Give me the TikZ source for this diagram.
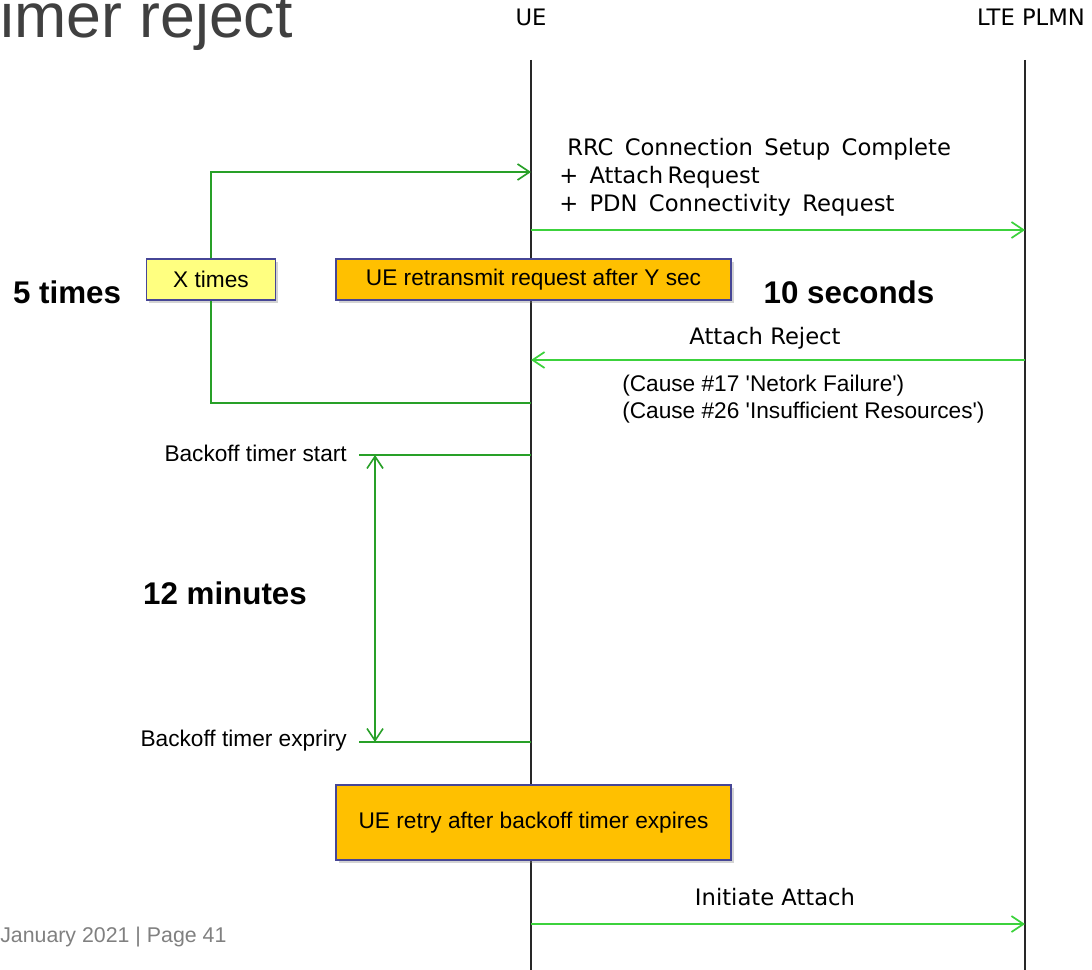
\documentclass[tikz,border=0pt]{standalone}
\usepackage{fontspec}
\setmainfont{Liberation Sans}
\newfontfamily\msgfont{DejaVu Sans}
\usetikzlibrary{positioning,arrows.meta,shadows}

\definecolor{loopgreen}{RGB}{40,160,40}
\definecolor{msggreen}{RGB}{60,210,60}
\definecolor{linegray}{RGB}{40,40,40}
\definecolor{boxedge}{RGB}{70,70,150}
\definecolor{notefill}{RGB}{255,255,128}
\definecolor{actfill}{RGB}{255,192,0}
\definecolor{titlegray}{RGB}{64,64,64}
\definecolor{footgray}{RGB}{128,128,128}

\begin{document}
\begin{tikzpicture}[x=0.75pt,y=-0.75pt,
  lifeline/.style={draw=linegray, line width=0.9pt},
  msgarrow/.style={draw=msggreen, line width=1.3pt, -{Straight Barb[length=9pt,width=12pt]}},
  loopline/.style={draw=loopgreen, line width=1.2pt},
  barb/.style={-{Straight Barb[length=9pt,width=12pt]}},
  msgtext/.style={font=\msgfont\fontsize{17}{21}\selectfont, inner sep=0pt},
  plaintext/.style={font=\fontsize{17}{20}\selectfont, inner sep=0pt},
  bigtext/.style={font=\bfseries\fontsize{23.5}{28}\selectfont, text={RGB:red,34;green,34;blue,34}},
  notebox/.style={draw=boxedge, line width=1pt, fill=notefill, minimum width=129*0.75pt,
    minimum height=41*0.75pt, font=\fontsize{17}{20}\selectfont,
    drop shadow={shadow xshift=2pt, shadow yshift=-2pt, opacity=0.35}},
  actbox/.style={draw=boxedge, line width=1pt, fill=actfill, minimum width=395*0.75pt,
    font=\fontsize{17}{20}\selectfont,
    drop shadow={shadow xshift=2pt, shadow yshift=-2pt, opacity=0.35}}]

\useasboundingbox (0,0) rectangle (1092,970);

% Titre
\node[anchor=base west, inner sep=0pt, text=titlegray, font=\fontsize{47}{50}\selectfont]
  (title) at (0,37.5) {imer reject};

% Entites
\node[msgtext] (ue) at (531,17) {UE};
\node[msgtext] (plmn) at (1031,17) {LTE PLMN};

\coordinate (ue top) at (531,60);
\coordinate (ue bot) at (531,970);
\coordinate (plmn top) at (1025,60);
\coordinate (plmn bot) at (1025,970);

\draw[lifeline] (ue top) -- (ue bot);
\draw[lifeline] (plmn top) -- (plmn bot);

% Boucle X times
\coordinate (ue loop in) at (531,172);
\coordinate (ue loop out) at (531,403);

\node[notebox] (xtimes) at (211,279.5) {X times};

\draw[loopline, barb] (xtimes.north) |- (ue loop in);
\draw[loopline] (xtimes.south) |- (ue loop out);

\node[bigtext] (fivetimes) at (67,292) {5 times};

% Attach Request
\coordinate (ue m1) at (531,230);
\coordinate (plmn m1) at (1025,230);

\draw[msgarrow] (ue m1) -- (plmn m1);

\node[msgtext, anchor=west, align=left] (setup) at (559,177)
  {\spaceskip=0.5em\hspace*{6pt}RRC Connection Setup Complete\\
   \spaceskip=0.5em + Attach\spaceskip=0.2em{} Request\\
   \spaceskip=0.5em + PDN Connectivity Request};

\node[actbox, minimum height=41*0.75pt] (retransmit) at (533.5,279.5)
  {UE retransmit request after Y sec};

\node[bigtext] (tensec) at (849,292) {10 seconds};

% Attach Reject
\coordinate (plmn m2) at (1025,360);
\coordinate (ue m2) at (531,360);

\draw[msgarrow] (plmn m2) -- (ue m2);

\node[msgtext] (reject) at (765,338) {Attach Reject};

\node[plaintext, anchor=west, align=left, font=\fontsize{17}{20.25}\selectfont]
  (cause) at (622,399.5)
  {(Cause \#17 \textquotesingle Netork Failure\textquotesingle)\\
   (Cause \#26 \textquotesingle Insufficient Resources\textquotesingle)};

% Backoff timer
\coordinate (tstart) at (359,455);
\coordinate (ue tstart) at (531,455);
\coordinate (tend) at (359,742);
\coordinate (ue tend) at (531,742);
\coordinate (span top) at (375,455);
\coordinate (span bot) at (375,742);

\draw[loopline] (tstart) -- (ue tstart);
\draw[loopline] (tend) -- (ue tend);
\draw[loopline, {Straight Barb[length=9pt,width=12pt]}-{Straight Barb[length=9pt,width=12pt]}]
  (span top) -- (span bot);

\node[plaintext, left=9pt of tstart, yshift=1pt] (bstart) {Backoff timer start};
\node[plaintext, left=9pt of tend, yshift=1pt] (bend) {Backoff timer expriry};

\node[bigtext] (twelvemin) at (225,593) {12 minutes};

% Retry
\node[actbox, minimum height=75*0.75pt] (retry) at (533.5,822.5)
  {UE retry after backoff timer expires};

\coordinate (ue m3) at (531,924);
\coordinate (plmn m3) at (1025,924);

\draw[msgarrow] (ue m3) -- (plmn m3);

\node[msgtext] (initiate) at (775,897) {Initiate Attach};

% Pied de page
\node[anchor=west, inner sep=0pt, text=footgray, font=\fontsize{16}{18}\selectfont]
  (footer) at (0,937) {January 2021 | Page 41};

\end{tikzpicture}
\end{document}
